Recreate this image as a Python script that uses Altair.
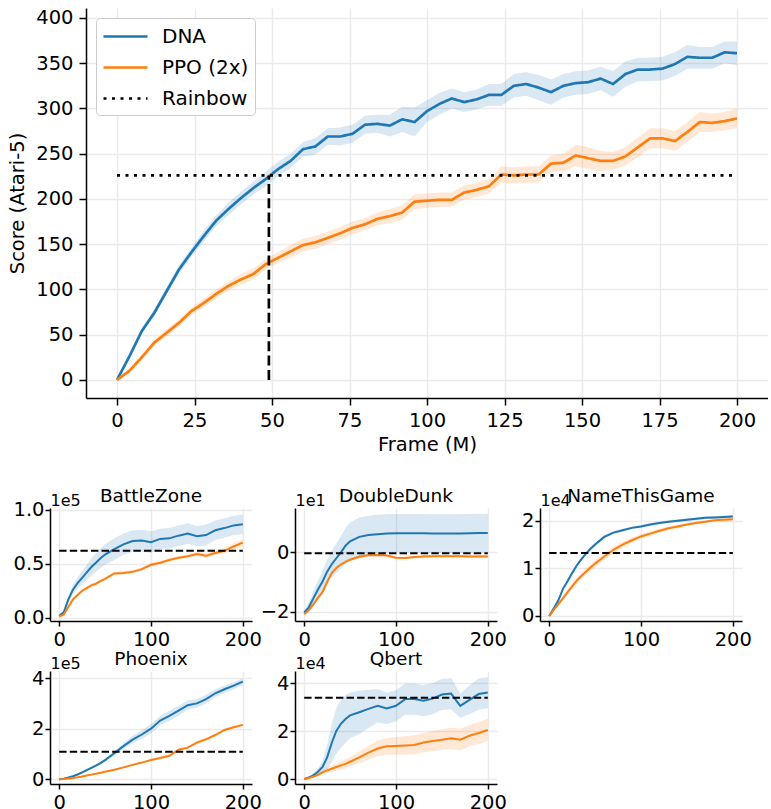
import altair as alt
import pandas as pd

FONT = "DejaVu Sans"
BLUE = "#1f77b4"
ORANGE = "#ff7f0e"
SERIES = ["DNA", "PPO (2x)", "Rainbow"]

# ---------------- main panel (Atari-5) ----------------
main_frames = list(range(0, 201, 4))
main_dna = [0, 26, 54, 74, 98, 122, 141, 159, 176, 189, 201, 212, 222, 233, 242, 255, 258,
            269, 269, 272, 282, 283, 281, 288, 285, 297, 305, 311, 307, 310, 315, 315, 325,
            327, 323, 318, 325, 328, 329, 333, 327, 338, 343, 343, 344, 349, 357, 356, 356,
            362, 361]
main_dna_band = [1, 2, 3, 4, 4, 5, 5, 6, 6, 7, 7, 7, 8, 8, 8, 8, 9, 9, 10, 10, 10, 10, 12, 14,
                 16, 12, 12, 11, 11, 11, 12, 12, 13, 13, 14, 14, 13, 13, 13, 13, 14, 14, 13,
                 13, 13, 13, 13, 12, 12, 12, 13]
main_ppo = [0, 10, 25, 41, 52, 63, 76, 85, 95, 104, 111, 117, 128, 135, 142, 149, 152, 157,
            162, 168, 172, 178, 181, 185, 197, 198, 199, 199, 207, 210, 214, 227, 226, 227,
            227, 239, 240, 248, 245, 242, 242, 247, 257, 267, 267, 264, 274, 285, 284, 286,
            289]
main_ppo_band = [1, 2, 3, 3, 4, 4, 4, 5, 5, 5, 6, 6, 6, 6, 7, 7, 7, 7, 7, 7, 7, 7, 8, 8, 8, 8,
                 8, 8, 8, 8, 8, 9, 9, 9, 9, 9, 10, 12, 12, 11, 10, 10, 11, 11, 11, 11, 11, 11,
                 10, 10, 11]
main_rainbow = 226
main_cross = 49

# ---------------- small panels ----------------
small_frames = [0, 5, 10, 15, 20, 25, 30, 35, 40, 45, 50, 60, 70, 80, 90, 100, 110, 120, 130,
                140, 150, 160, 170, 180, 190, 200]

bz_dna = [1800, 5000, 17000, 26000, 32000, 37000, 42000, 47000, 51000, 55000, 58500, 63500,
          68000, 71000, 71500, 70000, 73000, 73500, 76000, 78000, 75500, 76500, 81000, 83000,
          85500, 86500]
bz_dna_band = [1000, 2000, 3000, 4000, 5000, 6000, 7000, 8000, 8500, 9000, 9500, 10000, 10000,
               10000, 10000, 10000, 9500, 9500, 9500, 9500, 9500, 9500, 9000, 9000, 9000, 9000]
bz_ppo = [1000, 3000, 10000, 17000, 21000, 25000, 27500, 30000, 31500, 34000, 36000, 41000,
          41500, 42500, 45000, 49000, 51000, 53500, 55500, 57000, 59000, 57500, 60000, 62000,
          66000, 69500]
bz_ppo_band = [500, 1000, 1500, 1500, 1500, 1500, 1500, 1500, 1500, 1500, 1500, 1500, 1500,
               1500, 1500, 1500, 1500, 1500, 1500, 1500, 2000, 2000, 2000, 2500, 3000, 3000]
bz_rainbow = 62000

dd_dna = [-20.2, -18.5, -15.5, -12.5, -9.8, -6.5, -4.0, -2.0, 0.0, 2.2, 3.7, 5.2, 5.8, 6.1,
          6.3, 6.4, 6.4, 6.4, 6.4, 6.3, 6.3, 6.3, 6.3, 6.4, 6.5, 6.5]
dd_dna_band = [0.5, 1.5, 2.5, 3.0, 3.5, 4.0, 4.5, 5.0, 5.5, 6.0, 6.3, 6.5, 6.5, 6.5, 6.5, 6.5,
               6.5, 6.5, 6.5, 6.5, 6.5, 6.5, 6.5, 6.5, 6.5, 6.5]
dd_ppo = [-20.8, -19.5, -17.5, -15.3, -13.4, -10.0, -7.0, -5.3, -4.1, -3.2, -2.5, -1.5, -1.0,
          -0.9, -1.1, -1.8, -1.9, -1.6, -1.4, -1.3, -1.3, -1.3, -1.3, -1.4, -1.4, -1.4]
dd_ppo_band = [0.3, 0.4, 0.5, 0.6, 0.6, 0.6, 0.6, 0.6, 0.5, 0.5, 0.5, 0.5, 0.4, 0.4, 0.4, 0.4,
               0.4, 0.4, 0.4, 0.4, 0.4, 0.4, 0.4, 0.4, 0.4, 0.4]
dd_rainbow = -0.3

ntg_dna = [0, 1600, 3300, 5700, 7300, 9000, 10600, 11900, 13100, 14100, 15000, 16600, 17500,
           18000, 18500, 18800, 19200, 19500, 19800, 20000, 20200, 20400, 20600, 20700, 20800,
           20900]
ntg_dna_band = [100, 200, 300, 300, 400, 400, 400, 400, 400, 400, 400, 400, 300, 300, 300, 300,
                300, 300, 300, 300, 300, 300, 300, 300, 300, 300]
ntg_ppo = [0, 1300, 2500, 3700, 5000, 6200, 7400, 8400, 9300, 10200, 11000, 12500, 13900, 15000,
           15900, 16700, 17300, 17900, 18400, 18800, 19200, 19500, 19800, 20100, 20200, 20300]
ntg_ppo_band = [100, 200, 300, 400, 500, 600, 700, 700, 700, 700, 700, 700, 700, 600, 600, 500,
                500, 400, 400, 400, 300, 300, 300, 300, 300, 300]
ntg_rainbow = 13200

phx_dna = [0, 2500, 7000, 12000, 19000, 27000, 36000, 45000, 54000, 64000, 76000, 103000,
           131000, 157000, 177000, 200000, 232000, 251000, 271000, 293000, 300000, 317000,
           340000, 356000, 370000, 386000]
phx_dna_band = [500, 1000, 1500, 2000, 2500, 3000, 3500, 4000, 4500, 5000, 6000, 9000, 12000,
                15000, 17000, 18000, 18000, 20000, 20000, 18000, 17000, 17000, 16000, 15000,
                14000, 13000]
phx_ppo = [0, 1000, 3000, 5500, 8000, 11000, 15000, 18500, 22000, 26000, 30000, 38000, 47000,
           57000, 66000, 76000, 84000, 93000, 117000, 125000, 145000, 158000, 175000, 195000,
           206000, 215000]
phx_ppo_band = [300, 500, 800, 1000, 1200, 1500, 1500, 2000, 2000, 2000, 2500, 2500, 3000, 3000,
                3000, 3500, 3500, 4000, 4500, 5000, 5000, 5000, 5000, 5000, 5000, 5000]
phx_rainbow = 108500

qb_dna = [0, 600, 1500, 3000, 5000, 9000, 15000, 20000, 23000, 25000, 26500, 27800, 29200,
          30500, 29400, 30500, 33300, 33300, 32600, 33500, 35200, 35600, 30500, 33000, 35400,
          36000]
qb_dna_band = [300, 600, 1000, 1500, 2500, 5000, 8000, 9500, 10000, 10000, 9500, 9000, 8000,
               7000, 6500, 6500, 6500, 6500, 6500, 6500, 6500, 6500, 5000, 6000, 6500, 6500]
qb_ppo = [0, 400, 1000, 1700, 2800, 3600, 4300, 5000, 5700, 6300, 7200, 9000, 11000, 12700,
          13600, 13800, 14000, 14200, 15200, 15800, 16400, 17000, 16400, 18000, 19200, 20400]
qb_ppo_band = [200, 300, 500, 700, 900, 1100, 1300, 1500, 1700, 1900, 2000, 2500, 3000, 3200,
               3500, 3700, 3800, 4000, 4000, 4200, 4300, 4400, 4500, 4500, 4600, 4700]
qb_rainbow = 33900


def long_df(frames, dna, dna_b, ppo, ppo_b):
    rows = []
    for name, vals, band in (("DNA", dna, dna_b), ("PPO (2x)", ppo, ppo_b)):
        for x, v, b in zip(frames, vals, band):
            rows.append({"frame": x, "score": v, "lo": v - b, "hi": v + b, "series": name})
    return pd.DataFrame(rows)


# ---------------- build main chart ----------------
main_df = long_df(main_frames, main_dna, main_dna_band, main_ppo, main_ppo_band)
rain_df = pd.DataFrame({"frame": [0, 200], "score": [main_rainbow, main_rainbow],
                        "series": ["Rainbow", "Rainbow"]})
line_df = pd.concat([main_df[["frame", "score", "series"]], rain_df], ignore_index=True)
cross_df = pd.DataFrame({"frame": [main_cross], "y0": [0], "y1": [main_rainbow]})

mx_scale = alt.Scale(domain=[-10, 210], nice=False, zero=False)
my_scale = alt.Scale(domain=[-20, 411], nice=False, zero=False)
mx_axis = alt.Axis(values=list(range(0, 201, 25)), title="Frame (M)", tickSize=7,
                   labelPadding=6, titlePadding=6, grid=True)
my_axis = alt.Axis(values=list(range(0, 401, 50)), title="Score (Atari-5)", tickSize=7,
                   labelPadding=6, titlePadding=8, grid=True)

legend = alt.Legend(
    title=None, orient="none", legendX=46, legendY=10,
    symbolType="M-1,0H3", symbolSize=484, symbolStrokeWidth=2.7,
    symbolDash={"expr": "datum.value == 'Rainbow' ? [3, 5.5] : [1, 0]"},
    labelFontSize=20, labelFont=FONT, labelColor="black", labelOffset=35,
    rowPadding=8, padding=6, fillColor="white", strokeColor="#cccccc", cornerRadius=4,
    labelLimit=0)

band_layer = alt.Chart(main_df).mark_area(opacity=0.17).encode(
    x=alt.X("frame:Q", scale=mx_scale, axis=mx_axis),
    y=alt.Y("lo:Q", scale=my_scale, axis=my_axis),
    y2="hi:Q",
    fill=alt.Fill("series:N", scale=alt.Scale(domain=SERIES[:2], range=[BLUE, ORANGE]),
                  legend=None),
)
line_layer = alt.Chart(line_df).mark_line(strokeWidth=2.7).encode(
    x=alt.X("frame:Q", scale=mx_scale, axis=mx_axis),
    y=alt.Y("score:Q", scale=my_scale, axis=my_axis),
    color=alt.Color("series:N", scale=alt.Scale(domain=SERIES, range=[BLUE, ORANGE, "black"]),
                    legend=legend),
    strokeDash=alt.StrokeDash("series:N",
                              scale=alt.Scale(domain=SERIES, range=[[1, 0], [1, 0], [3, 5.5]]),
                              legend=None),
)
cross_layer = alt.Chart(cross_df).mark_rule(color="black", strokeWidth=2.7,
                                            strokeDash=[10, 4.3]).encode(
    x=alt.X("frame:Q", scale=mx_scale, axis=mx_axis),
    y=alt.Y("y0:Q", scale=my_scale, axis=my_axis),
    y2="y1:Q",
)
main = alt.layer(band_layer, line_layer, cross_layer).properties(width=682, height=390)

spacer = alt.Chart(pd.DataFrame({"v": [0]})).mark_point(opacity=0).properties(width=36,
                                                                                height=390)
main_row = alt.hconcat(spacer, main, spacing=0, bounds="flush")


# ---------------- small panels ----------------
def panel(name, exp, dna, dna_b, ppo, ppo_b, rainbow, ydom, yticks, div, fmt):
    df = long_df(small_frames, dna, dna_b, ppo, ppo_b)
    rb = pd.DataFrame({"x0": [0], "x1": [200], "r": [rainbow]})
    xs = alt.Scale(domain=[-10, 210], nice=False, zero=False)
    ys = alt.Scale(domain=ydom, nice=False, zero=False)
    xa = alt.Axis(values=[0, 100, 200], title=None, tickSize=5, labelPadding=4, grid=True)
    ya = alt.Axis(values=yticks, labelExpr=f"format(datum.value/{div}, '{fmt}')", title=exp,
                  titleAngle=0, titleX=0, titleY=-3, titleAlign="left",
                  titleBaseline="alphabetic", titleFontSize=16, tickSize=5, labelPadding=1,
                  grid=True)
    color = alt.Color("series:N", scale=alt.Scale(domain=SERIES[:2], range=[BLUE, ORANGE]),
                      legend=None)
    b = alt.Chart(df).mark_area(opacity=0.17).encode(
        x=alt.X("frame:Q", scale=xs, axis=xa), y=alt.Y("lo:Q", scale=ys, axis=ya), y2="hi:Q",
        color=color)
    l = alt.Chart(df).mark_line(strokeWidth=2).encode(
        x=alt.X("frame:Q", scale=xs, axis=xa), y=alt.Y("score:Q", scale=ys, axis=ya),
        color=color)
    r = alt.Chart(rb).mark_rule(color="black", strokeWidth=2, strokeDash=[7.4, 3.2]).encode(
        x=alt.X("x0:Q", scale=xs, axis=xa), x2="x1:Q", y=alt.Y("r:Q", scale=ys, axis=ya))
    return alt.layer(b, l, r).properties(
        width=202, height=113,
        title=alt.TitleParams(name, fontSize=18.5, fontWeight="normal", offset=-13,
                              frame="group", anchor="middle", font=FONT, color="black"))


p_bz = panel("BattleZone", "1e5", bz_dna, bz_dna_band, bz_ppo, bz_ppo_band, bz_rainbow,
             [-3000, 101600], [0, 50000, 100000], 100000, ".1f")
p_dd = panel("DoubleDunk", "1e1", dd_dna, dd_dna_band, dd_ppo, dd_ppo_band, dd_rainbow,
             [-23.1, 14.9], [-20, 0], 10, "d")
p_ntg = panel("NameThisGame", "1e4", ntg_dna, ntg_dna_band, ntg_ppo, ntg_ppo_band,
              ntg_rainbow, [-1050, 22670], [0, 10000, 20000], 10000, "d")
p_phx = panel("Phoenix", "1e5", phx_dna, phx_dna_band, phx_ppo, phx_ppo_band, phx_rainbow,
              [-18600, 428000], [0, 200000, 400000], 100000, "d")
p_qb = panel("Qbert", "1e4", qb_dna, qb_dna_band, qb_ppo, qb_ppo_band, qb_rainbow,
             [-2080, 45000], [0, 20000, 40000], 10000, "d")

grid = alt.concat(p_bz, p_dd, p_ntg, p_phx, p_qb, columns=3,
                  spacing={"row": 50, "column": 43}, bounds="flush")

chart = alt.vconcat(main_row, grid, spacing=32).properties(
    padding={"left": 7, "top": 7, "right": 0, "bottom": 0},
    autosize=alt.AutoSizeParams(type="pad"),
).configure_view(stroke=None).configure_axis(
    domainColor="black", domainWidth=1.5, tickColor="black", tickWidth=1.5,
    labelColor="black", titleColor="black", labelFont=FONT, titleFont=FONT,
    labelFontSize=19.5, titleFontSize=19.5, titleFontWeight="normal",
    gridColor="#ebebeb", gridWidth=1.5,
).configure_title(font=FONT, fontSize=18.5, fontWeight="normal", color="black")

chart.save("out.html", embed_options={"renderer": "svg", "actions": False})
